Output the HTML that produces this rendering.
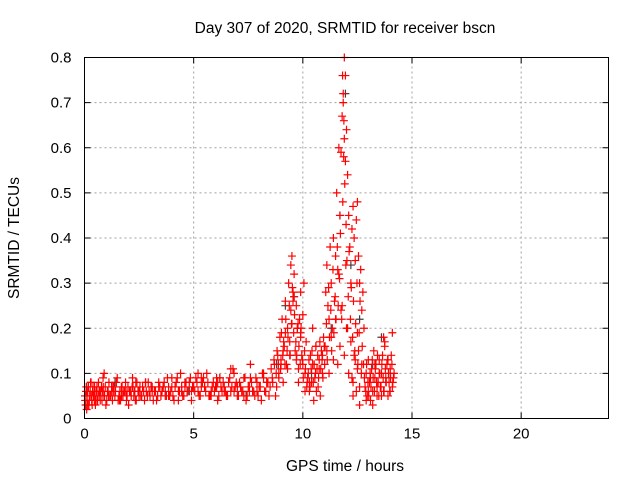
<!DOCTYPE html>
<html><head><meta charset="utf-8"><style>
body{margin:0;background:#fff;}
svg{display:block;font-family:"Liberation Sans",sans-serif;}
</style></head><body>
<svg id="chart" width="640" height="480" viewBox="0 0 640 480">
<rect width="640" height="480" fill="#fff"/>
<text x="345" y="33" font-size="15.5" text-anchor="middle">Day 307 of 2020, SRMTID for receiver bscn</text>
<text x="345" y="471" font-size="15.5" text-anchor="middle">GPS time / hours</text>
<text transform="translate(19,238) rotate(-90)" font-size="15.5" text-anchor="middle">SRMTID / TECUs</text>
<g id="grid"></g>
<g id="axes"></g>
<g id="marks"></g>
<rect x="84.5" y="57.5" width="524" height="361" fill="none" stroke="#000" stroke-width="1"/>
</svg>
<script>
const xTicks=[0,5,10,15,20];
const yTicks=[0,0.1,0.2,0.3,0.4,0.5,0.6,0.7,0.8];
const yLabels=["0","0.1","0.2","0.3","0.4","0.5","0.6","0.7","0.8"];
// red series: times (hours) and SRMTID values
const redT=[0.02,0.05,0.08,0.12,0.15,0.2,0.24,0.28,0.33,0.37,0.41,0.46,0.5,0.55,0.6,0.64,0.7,0.75,0.8,0.86,0.92,0.98,1.05,1.12,1.2,1.28,1.35,1.42,1.5,1.58,1.65,1.72,1.8,1.88,1.95,2.02,2.1,2.18,2.26,2.33,2.4,2.5,2.58,2.66,2.75,2.83,2.92,3.0,3.1,3.2,3.3,3.4,3.5,3.6,3.7,3.8,3.9,4.0,4.1,4.2,4.3,4.4,4.5,4.6,4.7,4.8,4.9,5.0,5.1,5.2,5.3,5.4,5.5,5.6,5.7,5.8,5.9,6.0,6.1,6.2,6.3,6.4,6.5,6.6,6.7,6.8,6.9,7.0,7.1,7.2,7.3,7.4,7.5,7.6,7.7,7.8,7.9,8.0,8.1,8.2,8.3,8.4,8.5,0.1,0.3,0.5,0.7,0.9,1.1,1.3,1.6,1.9,2.2,2.5,2.8,3.1,3.4,3.7,4.0,4.3,4.6,4.9,5.2,5.5,5.8,6.1,6.4,6.7,7.0,7.3,7.6,7.9,8.2,0.15,0.45,0.85,1.25,1.7,2.35,3.05,3.85,4.45,5.35,6.05,6.85,7.55,8.35,
8.6,8.7,8.8,8.85,8.9,8.95,9.0,9.05,9.1,9.15,9.2,9.25,9.3,9.35,9.4,9.45,9.5,9.55,9.6,9.65,9.7,9.75,9.8,9.85,9.9,9.95,10.0,10.05,10.1,10.15,10.2,8.75,8.9,9.0,9.1,9.2,9.3,9.4,9.5,9.6,9.7,9.8,9.9,10.0,10.1,9.45,9.55,9.75,9.9,
10.25,10.3,10.35,10.4,10.45,10.5,10.55,10.6,10.65,10.7,10.75,10.8,10.85,10.9,10.95,11.0,10.3,10.45,10.6,10.75,10.9,
11.05,11.1,11.15,11.2,11.25,11.3,11.35,11.4,11.45,11.5,11.55,11.6,11.65,11.7,11.75,11.8,11.85,11.9,11.95,12.0,12.05,12.1,12.15,12.2,12.25,12.3,12.35,12.4,12.45,12.5,12.55,12.6,12.65,12.7,12.75,12.8,11.1,11.2,11.3,11.4,11.5,11.6,11.7,11.8,11.9,12.0,12.1,12.2,12.3,12.4,12.5,12.6,12.7,11.85,11.9,11.95,11.88,11.92,11.98,12.02,11.82,11.87,12.05,12.25,12.3,12.35,12.45,12.5,12.55,12.6,11.65,11.75,
12.85,12.9,12.95,13.0,13.05,13.1,13.15,13.2,13.25,13.3,13.35,13.4,13.45,13.5,13.55,13.6,13.65,13.7,13.75,13.8,13.85,13.9,13.95,14.0,14.05,14.1,14.15,12.9,13.0,13.1,13.2,13.3,13.4,13.5,13.6,13.7,13.8,13.9,14.0,14.1,13.75,13.85];
const redV=[0.05,0.03,0.07,0.04,0.06,0.03,0.05,0.08,0.04,0.06,0.05,0.07,0.03,0.06,0.04,0.08,0.05,0.06,0.04,0.07,0.05,0.03,0.06,0.08,0.05,0.04,0.07,0.06,0.09,0.05,0.04,0.07,0.06,0.08,0.05,0.03,0.06,0.07,0.05,0.04,0.08,0.06,0.05,0.07,0.04,0.06,0.08,0.05,0.07,0.06,0.04,0.08,0.05,0.07,0.06,0.09,0.05,0.07,0.04,0.08,0.06,0.1,0.05,0.07,0.06,0.08,0.04,0.07,0.09,0.06,0.05,0.08,0.07,0.1,0.05,0.06,0.08,0.07,0.04,0.09,0.06,0.07,0.05,0.08,0.06,0.11,0.07,0.05,0.08,0.06,0.09,0.04,0.07,0.12,0.06,0.05,0.08,0.07,0.04,0.09,0.06,0.08,0.07,0.02,0.08,0.04,0.06,0.1,0.05,0.07,0.04,0.06,0.09,0.05,0.08,0.06,0.07,0.05,0.09,0.04,0.08,0.06,0.1,0.07,0.05,0.08,0.06,0.11,0.07,0.05,0.09,0.06,0.1,0.03,0.04,0.09,0.06,0.05,0.08,0.07,0.05,0.06,0.09,0.07,0.1,0.06,0.08,
0.09,0.12,0.07,0.14,0.1,0.18,0.13,0.22,0.08,0.16,0.26,0.12,0.2,0.3,0.17,0.24,0.36,0.28,0.32,0.15,0.25,0.2,0.11,0.22,0.18,0.14,0.23,0.3,0.1,0.17,0.08,0.05,0.09,0.12,0.15,0.19,0.11,0.14,0.21,0.27,0.13,0.08,0.19,0.12,0.06,0.34,0.26,0.2,0.28,
0.1,0.06,0.14,0.08,0.12,0.04,0.09,0.16,0.11,0.07,0.13,0.05,0.15,0.1,0.18,0.12,0.08,0.2,0.16,0.11,0.14,
0.28,0.34,0.25,0.22,0.38,0.3,0.2,0.4,0.26,0.36,0.5,0.33,0.6,0.45,0.59,0.67,0.72,0.8,0.76,0.64,0.54,0.45,0.38,0.3,0.42,0.47,0.4,0.35,0.44,0.48,0.36,0.3,0.33,0.24,0.28,0.2,0.15,0.1,0.18,0.13,0.22,0.12,0.16,0.25,0.14,0.2,0.1,0.17,0.08,0.13,0.19,0.07,0.12,0.7,0.62,0.57,0.66,0.52,0.43,0.35,0.76,0.58,0.2,0.09,0.05,0.14,0.06,0.11,0.15,0.03,0.32,0.24,
0.07,0.1,0.05,0.13,0.08,0.04,0.11,0.06,0.15,0.09,0.12,0.05,0.08,0.13,0.07,0.1,0.14,0.06,0.16,0.09,0.12,0.05,0.08,0.11,0.14,0.07,0.09,0.04,0.06,0.09,0.03,0.12,0.07,0.1,0.05,0.18,0.08,0.13,0.06,0.19,0.17];
// additional red points (denser coverage)
const red2T=[0.03,0.07,0.11,0.18,0.22,0.26,0.31,0.35,0.39,0.43,0.48,0.53,0.57,0.62,0.67,0.72,0.78,0.83,0.89,0.95,1.02,1.08,1.16,1.24,1.32,1.39,1.46,1.54,1.62,1.69,1.76,1.84,1.92,1.99,2.06,2.14,2.22,2.3,2.37,2.45,2.54,2.62,2.71,2.79,2.88,2.96,3.05,3.15,3.25,3.35,3.45,3.55,3.65,3.75,3.85,3.95,4.05,4.15,4.25,4.35,4.45,4.55,4.65,4.75,4.85,4.95,5.05,5.15,5.25,5.35,5.45,5.55,5.65,5.75,5.85,5.95,6.05,6.15,6.25,6.35,6.45,6.55,6.65,6.75,6.85,6.95,7.05,7.15,7.25,7.35,7.45,7.55,7.65,7.75,7.85,7.95,8.05,8.15,8.25,8.35,8.45,8.55,
8.62,8.68,8.78,8.82,8.88,8.98,9.02,9.08,9.12,9.18,9.22,9.28,9.32,9.38,9.42,9.48,9.52,9.58,9.62,9.68,9.72,9.78,9.82,9.88,9.92,9.98,10.02,10.08,10.12,10.18,
10.22,10.28,10.33,10.38,10.42,10.48,10.52,10.58,10.62,10.68,10.72,10.78,10.82,10.88,10.92,10.98,
11.02,11.08,11.12,11.18,11.22,11.28,11.32,11.38,11.42,11.48,11.52,11.58,11.62,11.68,11.72,11.78,11.83,11.97,12.08,12.12,12.18,12.22,12.28,12.32,12.38,12.42,12.48,12.52,12.58,12.62,12.68,12.72,12.78,
12.82,12.88,12.92,12.98,13.02,13.08,13.12,13.18,13.22,13.28,13.32,13.38,13.42,13.48,13.52,13.58,13.62,13.68,13.72,13.78,13.82,13.88,13.92,13.98,14.02,14.08,14.12,14.18];
const red2V=[0.04,0.06,0.05,0.07,0.04,0.06,0.05,0.03,0.07,0.05,0.06,0.04,0.07,0.05,0.06,0.04,0.07,0.06,0.05,0.07,0.04,0.06,0.05,0.07,0.06,0.05,0.08,0.04,0.06,0.07,0.05,0.06,0.04,0.07,0.06,0.05,0.07,0.06,0.04,0.06,0.07,0.05,0.06,0.08,0.05,0.06,0.07,0.04,0.06,0.05,0.07,0.06,0.08,0.05,0.07,0.06,0.05,0.07,0.09,0.06,0.07,0.05,0.08,0.06,0.09,0.07,0.06,0.08,0.05,0.07,0.09,0.06,0.08,0.05,0.07,0.06,0.09,0.05,0.07,0.08,0.06,0.05,0.09,0.07,0.06,0.08,0.05,0.07,0.06,0.09,0.05,0.07,0.08,0.06,0.09,0.05,0.07,0.1,0.06,0.08,0.05,0.11,
0.08,0.13,0.1,0.15,0.12,0.11,0.19,0.14,0.17,0.12,0.22,0.15,0.18,0.25,0.14,0.21,0.29,0.19,0.23,0.17,0.14,0.21,0.16,0.12,0.2,0.13,0.09,0.15,0.11,0.07,
0.09,0.13,0.07,0.11,0.15,0.08,0.12,0.1,0.06,0.14,0.09,0.17,0.11,0.13,0.09,0.16,
0.16,0.21,0.13,0.29,0.18,0.24,0.15,0.33,0.19,0.27,0.22,0.38,0.25,0.31,0.41,0.22,0.48,0.34,0.27,0.37,0.22,0.29,0.18,0.26,0.15,0.21,0.3,0.12,0.19,0.26,0.1,0.16,0.12,
0.09,0.06,0.12,0.08,0.05,0.1,0.07,0.13,0.09,0.06,0.11,0.08,0.14,0.05,0.1,0.07,0.12,0.09,0.06,0.11,0.08,0.13,0.1,0.06,0.09,0.12,0.08,0.1];
// dark gray series
const grayT=[0.1,0.9,1.4,2.3,3.6,4.8,6.2,7.4,8.8,9.2,9.6,10.4,11.3,11.7,11.95,12.2,12.6,13.2,13.6,14.0];
const grayV=[0.07,0.05,0.08,0.06,0.07,0.06,0.09,0.05,0.12,0.25,0.27,0.1,0.2,0.45,0.72,0.34,0.22,0.12,0.18,0.1];

const X0=84.5,X1=608.5,Y0=418.5,Y1=57.5;
const xs=v=>X0+(v/24)*(X1-X0);
const ys=v=>Y0-(v/0.8)*(Y0-Y1);
const NS="http://www.w3.org/2000/svg";
const grid=document.getElementById('grid'),axes=document.getElementById('axes'),marks=document.getElementById('marks');
function mk(tag,attrs,parent){const e=document.createElementNS(NS,tag);for(const k in attrs)e.setAttribute(k,attrs[k]);parent.appendChild(e);return e;}
xTicks.forEach((t,i)=>{
  const x=xs(t);
  if(i>0){const g=mk('line',{x1:x,x2:x,y1:Y0,y2:Y1,stroke:'#a0a0a0','stroke-dasharray':'2,3'},grid);
  
  }
  mk('line',{x1:x,x2:x,y1:Y0,y2:Y0-6,stroke:'#000'},axes);
  mk('line',{x1:x,x2:x,y1:Y1,y2:Y1+6,stroke:'#000'},axes);
  const l=mk('text',{x:x,y:Y0+20,'font-size':'15','text-anchor':'middle'},axes);
  l.textContent=String(t);
  
  
});
yTicks.forEach((t,i)=>{
  const y=ys(t);
  if(i>0&&i<yTicks.length-1){const g=mk('line',{x1:X0,x2:X1,y1:y,y2:y,stroke:'#a0a0a0','stroke-dasharray':'2,3'},grid);
  
  }
  mk('line',{x1:X0,x2:X0+6,y1:y,y2:y,stroke:'#000'},axes);
  mk('line',{x1:X1,x2:X1-6,y1:y,y2:y,stroke:'#000'},axes);
  const l=mk('text',{x:X0-13,y:y+5,'font-size':'15','text-anchor':'end'},axes);
  l.textContent=yLabels[i];
  
  
});
function plus(t,v,col,name){
  const x=xs(t),y=ys(v);
  const p=mk('path',{d:`M${x-4},${y}h8M${x},${y-4}v8`,stroke:col,'stroke-width':'1.2',fill:'none'},marks);
  
  
}
grayT.forEach((t,i)=>plus(t,grayV[i],'#404040','gray-point'));
redT.forEach((t,i)=>plus(t,redV[i],'#ff0000','red-point'));
red2T.forEach((t,i)=>plus(t,red2V[i],'#ff0000','red-point'));
</script>
</body></html>
